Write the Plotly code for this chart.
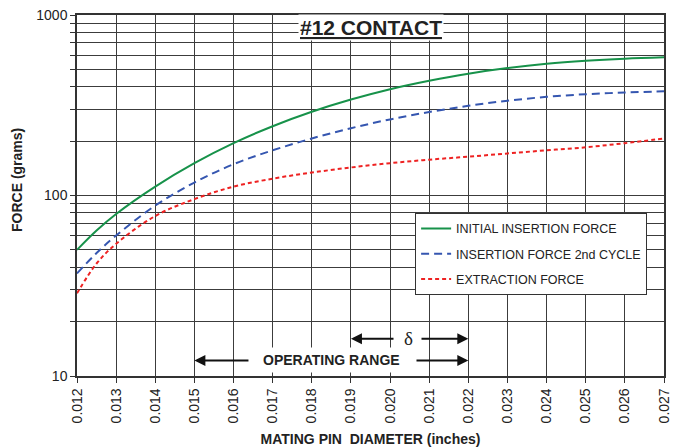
import math
import plotly.graph_objects as go

# ---- data ----
pin_diameter = [0.012, 0.0125, 0.013, 0.014, 0.015, 0.016, 0.017, 0.018, 0.019,
                0.020, 0.021, 0.022, 0.023, 0.024, 0.025, 0.026, 0.027]
initial_insertion = [50, 64, 79, 112, 151, 195, 242, 291, 340, 388, 432, 473, 508, 537, 558, 573, 583]
insertion_2nd = [37, 48, 60, 88, 118, 149, 178, 207, 236, 264, 290, 314, 335, 352, 364, 372, 378]
extraction = [28.7, 42, 54, 77, 95.5, 112, 124, 134, 143, 151, 158, 164, 171, 178, 185, 195, 207]

x_ticks = [0.012, 0.013, 0.014, 0.015, 0.016, 0.017, 0.018, 0.019, 0.020,
           0.021, 0.022, 0.023, 0.024, 0.025, 0.026, 0.027]
x_ticklabels = ["0.012", "0.013", "0.014", "0.015", "0.016", "0.017", "0.018", "0.019",
                "0.020", "0.021", "0.022", "0.023", "0.024", "0.025", "0.026", "0.027"]
y_ticks = [10, 20, 30, 40, 50, 60, 70, 80, 90, 100, 200, 300, 400, 500, 600, 700, 800, 900, 1000]
y_ticklabels = ["10", "", "", "", "", "", "", "", "", "100", "", "", "", "", "", "", "", "", "1000"]

op_range = [0.015, 0.022]
delta_range = [0.019, 0.022]

FONT = "Liberation Sans, Arial, sans-serif"
GRID = "#3c3c3c"

fig = go.Figure()
fig.add_trace(go.Scatter(x=pin_diameter, y=initial_insertion, mode="lines",
                         name="INITIAL INSERTION FORCE", legendgroup="a",
                         line=dict(color="#17924a", width=2, shape="spline")))
fig.add_trace(go.Scatter(x=pin_diameter, y=insertion_2nd, mode="lines",
                         name="INSERTION FORCE 2nd CYCLE", legendgroup="b",
                         line=dict(color="#3556b0", width=2, dash="8px,5px", shape="spline")))
fig.add_trace(go.Scatter(x=pin_diameter, y=extraction, mode="lines",
                         name="EXTRACTION FORCE", legendgroup="c",
                         line=dict(color="#ee2222", width=2, dash="4px,3px", shape="spline")))

y_op = math.log10(12.2)
y_delta = math.log10(16.1)

annotations = [
    dict(text="#12 CONTACT", xref="paper", yref="paper", x=0.5, y=(376 - 28) / 361,
         xanchor="center", yanchor="middle",
         showarrow=False, bgcolor="white", borderpad=1,
         font=dict(family=FONT, size=21, color="#222", weight="bold", lineposition="under")),
    dict(text="<b>OPERATING RANGE</b>", xref="x", yref="y", x=0.018504, y=y_op,
         showarrow=False, bgcolor="white", borderpad=4,
         font=dict(family=FONT, size=14, color="#222")),
    dict(text="δ", xref="x", yref="y", x=0.02046, y=y_delta,
         showarrow=False, bgcolor="white", borderpad=3,
         font=dict(family="Liberation Serif, Times New Roman, serif", size=19, color="#222")),
    dict(text="<b>FORCE (grams)</b>", xref="paper", yref="paper", x=0, xanchor="center",
         xshift=-60, y=(376 - 180) / 361, yanchor="middle", textangle=-90, showarrow=False,
         font=dict(family=FONT, size=14, color="#222")),
]
arrows = [
    (op_range[0], 0.01642, y_op),
    (op_range[1], 0.020637, y_op),
    (delta_range[0], 0.020126, y_delta),
    (delta_range[1], 0.020765, y_delta),
]
for head, tail, yy in arrows:
    annotations.append(dict(text="", x=head, y=yy, xref="x", yref="y",
                            ax=tail, ay=yy, axref="x", ayref="y",
                            showarrow=True, arrowhead=2, arrowsize=1.1, arrowwidth=2,
                            arrowcolor="#111", standoff=0, startstandoff=0))

# page body has an 8px margin, so the figure is sized/offset to place the plot area
fig.update_layout(
    width=675, height=440,
    margin=dict(l=69, r=19, t=7, b=72),
    paper_bgcolor="white", plot_bgcolor="white",
    font=dict(family=FONT, color="#222"),
    showlegend=True,
    legend=dict(x=0.576, y=0.452, xanchor="left", yanchor="top",
                bgcolor="white", bordercolor="#333", borderwidth=1,
                font=dict(family=FONT, size=12.5, color="#222"),
                itemwidth=30, tracegroupgap=6, traceorder="grouped"),
    annotations=annotations,
)
fig.update_xaxes(range=[0.012, 0.027], tickmode="array", tickvals=x_ticks, ticktext=x_ticklabels,
                 tickangle=-90, ticks="outside", ticklen=5, tickcolor="#333",
                 tickfont=dict(family=FONT, size=14, color="#222"), automargin=False,
                 ticklabeloverflow="allow",
                 showgrid=True, gridcolor=GRID, gridwidth=1, zeroline=False,
                 showline=True, linecolor="#333", linewidth=1.5, mirror=True,
                 title=dict(text="<b>MATING PIN\u00a0 DIAMETER (inches)</b>", standoff=12,
                            font=dict(family=FONT, size=14, color="#222")))
fig.update_yaxes(type="log", range=[1, 3], tickmode="array", tickvals=y_ticks, ticktext=y_ticklabels,
                 ticks="outside", ticklen=5, tickcolor="#333", automargin=False,
                 ticklabeloverflow="allow",
                 tickfont=dict(family=FONT, size=14, color="#222"),
                 showgrid=True, gridcolor=GRID, gridwidth=1, zeroline=False,
                 showline=True, linecolor="#333", linewidth=1.5, mirror=True)

fig.write_html("out.html")
